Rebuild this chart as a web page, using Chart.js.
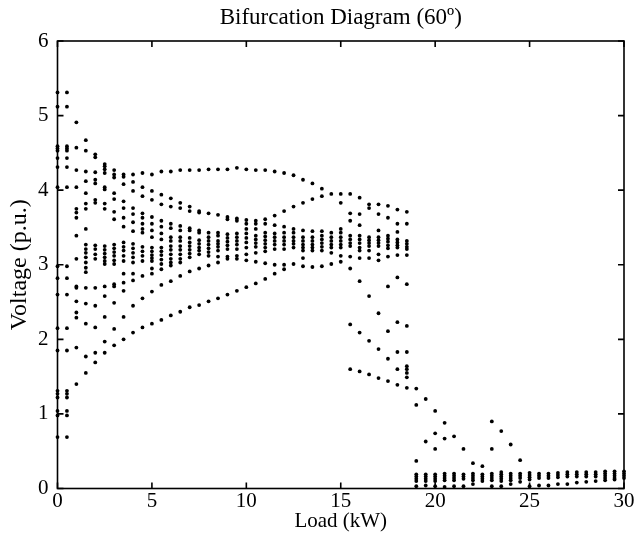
<!DOCTYPE html>
<html>
<head>
<meta charset="utf-8">
<script src="https://cdn.jsdelivr.net/npm/chart.js@4.4.1/dist/chart.umd.min.js"></script>
<style>
    html, body { margin: 0; padding: 0; background: #fff; }
    #wrap { width: 642px; height: 538px; }
</style>
</head>
<body>
<div id="wrap"><canvas id="chart" width="642" height="538"></canvas></div>
<script>
const chartTitle = 'Bifurcation Diagram (60º)';
const xTitle = 'Load (kW)';
const yTitle = 'Voltage (p.u.)';
const xTicks = [0, 5, 10, 15, 20, 25, 30];
const yTicks = [0, 1, 2, 3, 4, 5, 6];

const loadKW = [
    0, 0.5, 1, 1.5, 2, 2.5, 3, 3.5, 4, 4.5, 5,
    5.5, 6, 6.5, 7, 7.5, 8, 8.5, 9, 9.5, 10,
    10.5, 11, 11.5, 12, 12.5, 13, 13.5, 14, 14.5, 15,
    15.5, 16, 16.5, 17, 17.5, 18, 18.5,
    19, 19.5, 20, 20.5, 21, 21.5, 22, 22.5, 23, 23.5, 24, 24.5,
    25, 25.5, 26, 26.5, 27, 27.5, 28, 28.5, 29, 29.5, 30
];

// sampled voltages per load step, 0 .. 5 kW
const voltsUpTo5 = [
    [5.31, 5.12, 4.59, 4.56, 4.53, 4.43, 4.31, 4.04, 2.98, 2.82, 2.6, 2.15, 1.85, 1.31, 1.27, 1.22, 1.04, 0.98, 0.69],
    [5.31, 5.12, 4.59, 4.56, 4.53, 4.43, 4.31, 4.04, 2.98, 2.82, 2.6, 2.15, 1.85, 1.31, 1.27, 1.22, 1.04, 0.98, 0.69],
    [4.91, 4.57, 4.27, 4.04, 3.75, 3.70, 3.63, 3.39, 3.08, 2.71, 2.69, 2.51, 2.36, 2.29, 1.89, 1.40],
    [4.67, 4.53, 4.25, 4.12, 3.96, 3.82, 3.75, 3.48, 3.27, 3.21, 3.16, 3.10, 3.03, 2.96, 2.90, 2.69, 2.48, 2.21, 1.77, 1.55],
    [4.48, 4.44, 4.24, 4.14, 4.09, 3.87, 3.83, 3.26, 3.21, 3.14, 3.08, 2.69, 2.45, 2.16, 1.82, 1.69],
    [4.35, 4.32, 4.28, 4.23, 4.04, 4.01, 3.82, 3.75, 3.25, 3.20, 3.15, 3.10, 3.05, 3.01, 2.71, 2.58, 2.30, 1.97, 1.82],
    [4.27, 4.21, 4.17, 3.96, 3.88, 3.71, 3.61, 3.27, 3.22, 3.17, 3.12, 3.06, 3.01, 2.74, 2.71, 2.49, 2.14, 1.92],
    [4.21, 4.18, 4.08, 3.85, 3.76, 3.63, 3.51, 3.30, 3.24, 3.19, 3.12, 3.05, 2.88, 2.76, 2.65, 2.30, 2.00],
    [4.21, 4.11, 3.99, 3.76, 3.68, 3.57, 3.45, 3.28, 3.22, 3.16, 3.10, 3.03, 2.88, 2.79, 2.45, 2.09],
    [4.23, 4.04, 3.92, 3.69, 3.63, 3.55, 3.48, 3.43, 3.24, 3.18, 3.12, 3.05, 2.85, 2.55, 2.16],
    [4.21, 3.99, 3.87, 3.64, 3.55, 3.46, 3.37, 3.23, 3.18, 3.13, 3.09, 3.05, 2.95, 2.88, 2.64, 2.21]
];

// 5.5 .. 10 kW
const volts5to10 = [
    [4.25, 3.94, 3.81, 3.59, 3.51, 3.42, 3.34, 3.23, 3.18, 3.13, 3.07, 3.01, 2.94, 2.73, 2.26],
    [4.25, 3.89, 3.78, 3.55, 3.49, 3.37, 3.32, 3.25, 3.20, 3.14, 3.08, 3.03, 2.99, 2.78, 2.32],
    [4.27, 3.83, 3.76, 3.52, 3.46, 3.37, 3.32, 3.25, 3.20, 3.14, 3.08, 3.03, 2.85, 2.37],
    [4.27, 3.78, 3.72, 3.49, 3.46, 3.36, 3.30, 3.25, 3.20, 3.15, 3.10, 2.91, 2.43],
    [4.27, 3.72, 3.70, 3.46, 3.43, 3.33, 3.28, 3.23, 3.19, 3.14, 2.95, 2.46],
    [4.28, 3.69, 3.43, 3.37, 3.32, 3.27, 3.22, 3.17, 3.12, 2.99, 2.51],
    [4.28, 3.67, 3.43, 3.39, 3.32, 3.28, 3.24, 3.19, 3.11, 3.03, 2.55],
    [4.28, 3.64, 3.61, 3.41, 3.36, 3.31, 3.26, 3.21, 3.11, 3.08, 2.60],
    [4.30, 3.62, 3.59, 3.42, 3.37, 3.32, 3.27, 3.21, 3.12, 3.08, 2.65],
    [4.28, 3.60, 3.55, 3.48, 3.42, 3.36, 3.30, 3.23, 3.14, 3.06, 2.70]
];

// 10.5 .. 15 kW
const volts10to15 = [
    [4.27, 3.59, 3.55, 3.48, 3.39, 3.34, 3.29, 3.24, 3.16, 3.04, 2.75],
    [4.27, 3.61, 3.55, 3.43, 3.38, 3.33, 3.28, 3.23, 3.18, 3.02, 2.81],
    [4.25, 3.66, 3.53, 3.42, 3.37, 3.32, 3.27, 3.21, 3.00, 2.88],
    [4.23, 3.72, 3.51, 3.43, 3.37, 3.32, 3.27, 3.21, 3.00, 2.94],
    [4.20, 3.78, 3.48, 3.43, 3.37, 3.32, 3.28, 3.23, 3.01],
    [4.14, 3.83, 3.46, 3.37, 3.32, 3.27, 3.23, 3.19, 3.09, 2.98],
    [4.09, 3.88, 3.45, 3.37, 3.32, 3.27, 3.23, 3.19, 2.97],
    [4.02, 3.92, 3.45, 3.39, 3.34, 3.29, 3.24, 3.19, 2.98],
    [3.95, 3.43, 3.37, 3.32, 3.27, 3.23, 3.16, 3.01],
    [3.95, 3.83, 3.48, 3.43, 3.37, 3.32, 3.27, 3.23, 3.12, 3.04]
];

// 15.5 .. 18.5 kW
const volts15to19 = [
    [3.95, 3.69, 3.59, 3.39, 3.34, 3.29, 3.25, 3.11, 2.95, 2.20, 1.60],
    [3.90, 3.68, 3.53, 3.39, 3.34, 3.29, 3.23, 3.19, 3.09, 2.78, 2.09, 1.57],
    [3.81, 3.76, 3.37, 3.33, 3.29, 3.25, 3.19, 3.09, 2.58, 1.98, 1.53],
    [3.81, 3.68, 3.46, 3.37, 3.33, 3.29, 3.25, 3.14, 3.06, 2.35, 1.87, 1.48],
    [3.79, 3.63, 3.39, 3.35, 3.31, 3.26, 3.22, 3.11, 2.71, 2.11, 1.74, 1.44],
    [3.74, 3.55, 3.44, 3.34, 3.30, 3.26, 3.23, 3.13, 2.83, 2.23, 1.83, 1.60, 1.39],
    [3.71, 3.55, 3.32, 3.28, 3.24, 3.21, 3.13, 2.74, 2.18, 1.83, 1.64, 1.60, 1.55, 1.49, 1.35]
];

// 19 .. 30 kW, after the collapse
const voltsCollapse = [
    [1.34, 1.12, 0.37, 0.19, 0.16, 0.13, 0.10, 0.03],
    [1.20, 0.63, 0.19, 0.16, 0.13, 0.10, 0.04],
    [1.04, 0.74, 0.53, 0.19, 0.16, 0.13, 0.10, 0.03],
    [0.88, 0.67, 0.20, 0.17, 0.14, 0.11, 0.02],
    [0.70, 0.20, 0.17, 0.14, 0.11, 0.03],
    [0.53, 0.19, 0.16, 0.13, 0.03],
    [0.34, 0.20, 0.17, 0.14, 0.11, 0.06],
    [0.30, 0.19, 0.16, 0.13, 0.10],
    [0.90, 0.53, 0.20, 0.17, 0.14, 0.11, 0.03],
    [0.77, 0.22, 0.19, 0.16, 0.13, 0.10, 0.03],
    [0.59, 0.20, 0.17, 0.14, 0.11, 0.06],
    [0.38, 0.20, 0.17, 0.14, 0.09],
    [0.21, 0.18, 0.15, 0.12, 0.03],
    [0.20, 0.17, 0.14, 0.04],
    [0.20, 0.17, 0.14, 0.04],
    [0.21, 0.18, 0.15, 0.06],
    [0.22, 0.19, 0.16, 0.06],
    [0.22, 0.19, 0.16, 0.08],
    [0.22, 0.19, 0.16, 0.09],
    [0.22, 0.19, 0.16, 0.10],
    [0.23, 0.20, 0.17, 0.14, 0.11],
    [0.23, 0.20, 0.17, 0.14, 0.12],
    [0.23, 0.20, 0.17, 0.14]
];

const voltsByLoad = [...voltsUpTo5, ...volts5to10, ...volts10to15, ...volts15to19, ...voltsCollapse];

const points = [];
loadKW.forEach((load, i) => {
    for (const v of voltsByLoad[i]) {
        points.push({x: load, y: v});
    }
});

const serif = '"Liberation Serif", "Times New Roman", serif';

// MATLAB style box with inward ticks on all four sides, title over the plot area
const matlabFrame = {
    id: 'matlabFrame',
    beforeDatasetsDraw(chart) {
        const {ctx, chartArea: a, scales: {x, y}} = chart;
        const len = 6;
        ctx.save();
        ctx.strokeStyle = '#000';
        ctx.lineWidth = 1.6;
        ctx.strokeRect(a.left, a.top, a.right - a.left, a.bottom - a.top);
        ctx.beginPath();
        for (const t of xTicks) {
            const px = x.getPixelForValue(t);
            ctx.moveTo(px, a.bottom);
            ctx.lineTo(px, a.bottom - len);
            ctx.moveTo(px, a.top);
            ctx.lineTo(px, a.top + len);
        }
        for (const t of yTicks) {
            const py = y.getPixelForValue(t);
            ctx.moveTo(a.left, py);
            ctx.lineTo(a.left + len, py);
            ctx.moveTo(a.right, py);
            ctx.lineTo(a.right - len, py);
        }
        ctx.stroke();
        ctx.fillStyle = '#000';
        ctx.font = '23px ' + serif;
        ctx.textAlign = 'center';
        ctx.textBaseline = 'middle';
        ctx.fillText(chartTitle, (a.left + a.right) / 2, 18);
        ctx.restore();
    }
};

new Chart(document.getElementById('chart').getContext('2d'), {
    type: 'scatter',
    data: {
        datasets: [{
            data: points,
            pointRadius: 1.9,
            pointBackgroundColor: '#000',
            pointBorderWidth: 0,
            pointHoverRadius: 1.9,
            clip: false
        }]
    },
    options: {
        responsive: false,
        animation: false,
        devicePixelRatio: 1,
        layout: {
            padding: {top: 41, right: 18, left: 0, bottom: 0}
        },
        scales: {
            x: {
                type: 'linear',
                min: 0,
                max: 30,
                grid: {display: false},
                border: {display: false},
                ticks: {
                    stepSize: 5,
                    color: '#000',
                    padding: -8,
                    maxRotation: 0,
                    font: {family: serif, size: 21}
                },
                title: {
                    display: true,
                    text: xTitle,
                    color: '#000',
                    padding: {top: 0, bottom: 4},
                    font: {family: serif, size: 21}
                },
                afterFit(scale) {
                    scale.height = 49.5;
                }
            },
            y: {
                type: 'linear',
                min: 0,
                max: 6,
                grid: {display: false},
                border: {display: false},
                ticks: {
                    stepSize: 1,
                    color: '#000',
                    padding: 1,
                    font: {family: serif, size: 21}
                },
                title: {
                    display: true,
                    text: yTitle,
                    color: '#000',
                    padding: {top: 5, bottom: 0},
                    font: {family: serif, size: 24}
                },
                afterFit(scale) {
                    scale.width = 57.5;
                }
            }
        },
        plugins: {
            legend: {display: false},
            tooltip: {enabled: false}
        }
    },
    plugins: [matlabFrame]
});
</script>
</body>
</html>
